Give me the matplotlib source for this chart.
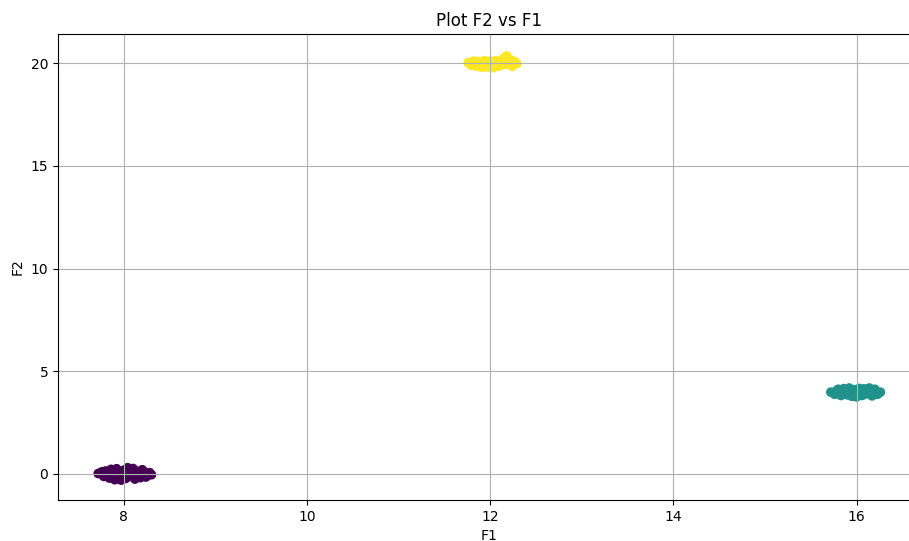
import numpy as np
import matplotlib.pyplot as plt


# -----------------------------
# Datos
# -----------------------------

# Grupo 0 (morado), alrededor de (8, 0)
f1_g0 = [7.72, 7.78, 7.80, 7.84, 7.86, 7.90, 7.92, 7.95, 7.97, 8.00,
         8.02, 8.04, 8.07, 8.10, 8.12, 8.15, 8.18, 8.20, 8.24, 8.28,
         8.30, 7.82, 7.88, 7.94, 8.05, 8.13, 8.22, 7.98, 8.08, 7.76]
f2_g0 = [0.02, -0.12, 0.14, -0.20, 0.22, -0.28, 0.25, 0.05, -0.30, 0.18,
         -0.22, 0.30, -0.10, 0.26, -0.25, 0.12, -0.18, 0.20, -0.15, 0.06,
         -0.04, 0.08, -0.05, -0.12, 0.02, 0.00, 0.10, -0.08, 0.15, 0.10]

# Grupo 1 (verde azulado), alrededor de (16, 4)
f1_g1 = [15.72, 15.76, 15.80, 15.83, 15.86, 15.90, 15.92, 15.95, 15.98, 16.00,
         16.03, 16.06, 16.08, 16.11, 16.14, 16.17, 16.20, 16.23, 16.26, 15.78,
         15.88, 15.96, 16.04, 16.12, 16.18, 15.85, 16.01, 16.09]
f2_g1 = [3.98, 3.88, 4.12, 3.82, 4.15, 3.85, 4.18, 3.78, 4.10, 3.75,
         4.16, 3.82, 4.14, 3.90, 4.18, 3.80, 4.12, 3.88, 3.98, 4.05,
         3.95, 4.02, 3.92, 4.05, 3.95, 4.00, 4.04, 3.96]

# Grupo 2 (amarillo), alrededor de (12, 20)
f1_g2 = [11.76, 11.79, 11.82, 11.85, 11.88, 11.91, 11.94, 11.97, 12.00, 12.03,
         12.06, 12.09, 12.12, 12.15, 12.18, 12.21, 12.24, 12.27, 12.29, 11.80,
         11.90, 11.99, 12.08, 12.17, 12.25, 11.86, 12.02, 12.13]
f2_g2 = [20.02, 19.90, 20.10, 19.85, 20.08, 19.80, 20.12, 19.82, 20.10, 19.78,
         20.12, 19.85, 20.10, 20.25, 20.35, 20.18, 19.85, 20.05, 19.98, 19.98,
         20.00, 19.95, 20.02, 19.95, 20.10, 19.98, 20.00, 19.92]

F1 = np.array(f1_g0 + f1_g1 + f1_g2)
F2 = np.array(f2_g0 + f2_g1 + f2_g2)
labels = np.array([0] * len(f1_g0) + [1] * len(f1_g1) + [2] * len(f1_g2))


# -----------------------------
# Grafico
# -----------------------------

fig = plt.figure(figsize=(9.09, 5.41), dpi=100)
ax = fig.add_axes([0.0638, 0.0758, 0.949, 0.861])

ax.scatter(F1, F2, c=labels, cmap="viridis")

ax.set_xlim(7.28, 16.70)
ax.set_ylim(-1.27, 21.41)

ax.set_title("Plot F2 vs F1")
ax.set_xlabel("F1")
ax.set_ylabel("F2")
ax.grid(True)

fig.savefig("out.png", dpi=100)
